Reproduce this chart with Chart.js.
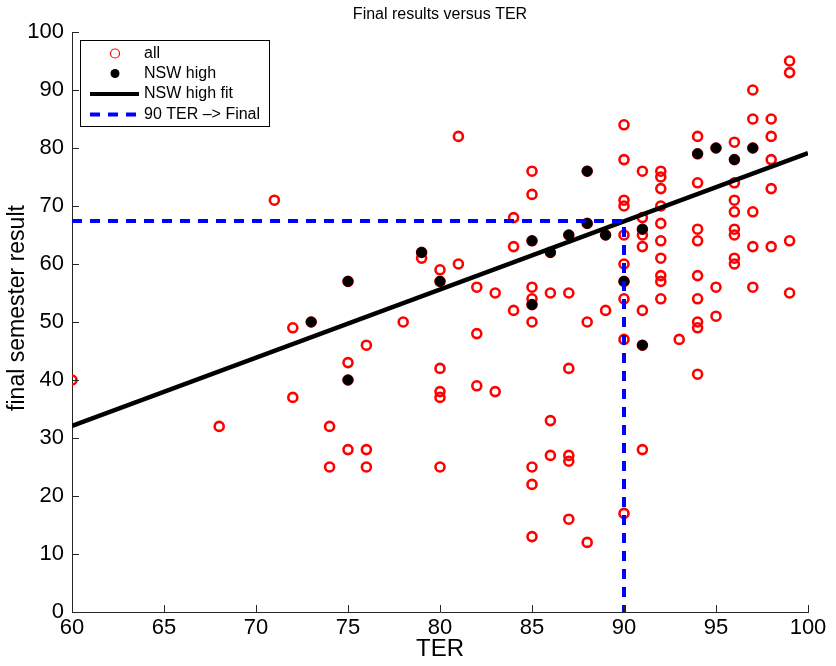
<!DOCTYPE html>
<html>
<head>
<meta charset="utf-8">
<script src="https://cdn.jsdelivr.net/npm/chart.js@4"></script>
<style>
  html, body { margin: 0; padding: 0; background: #fff; }
  #wrap { width: 836px; height: 666px; }
</style>
</head>
<body>
<div id="wrap"><canvas id="ter"></canvas></div>
<script>
// all students: TER vs final semester result
const allTER = [
  60, 68, 71, 72, 72, 73, 74, 74, 75, 75, 75, 75, 76, 76, 76, 78, 79, 79,
  80, 80, 80, 80, 80, 80, 81, 81, 82, 82, 82, 83, 83, 84, 84, 84,
  85, 85, 85, 85, 85, 85, 85, 85, 85, 85, 86, 86, 86, 86,
  87, 87, 87, 87, 87, 87, 88, 88, 88, 88, 89, 89,
  90, 90, 90, 90, 90, 90, 90, 90, 90, 90,
  91, 91, 91, 91, 91, 91, 91, 91,
  92, 92, 92, 92, 92, 92, 92, 92, 92, 92, 93,
  94, 94, 94, 94, 94, 94, 94, 94, 94, 94, 95, 95, 95,
  96, 96, 96, 96, 96, 96, 96, 96, 96,
  97, 97, 97, 97, 97, 97, 98, 98, 98, 98, 98, 99, 99, 99, 99
];
const allFinal = [
  40, 32, 71, 49, 37, 50, 32, 25, 57, 43, 40, 28, 46, 28, 25, 50, 62, 61,
  59, 57, 42, 38, 37, 25, 82, 60, 56, 48, 39, 55, 38, 68, 63, 52,
  76, 72, 64, 56, 54, 53, 50, 25, 22, 13, 62, 55, 33, 27,
  65, 55, 42, 27, 26, 16, 76, 67, 50, 12, 65, 52,
  84, 78, 71, 70, 65, 60, 57, 54, 47, 17,
  76, 68, 66, 65, 63, 52, 46, 28,
  76, 75, 73, 70, 67, 64, 61, 58, 57, 54, 47,
  82, 79, 74, 66, 64, 58, 54, 50, 49, 41, 80, 56, 51,
  81, 78, 74, 71, 69, 66, 65, 61, 60,
  90, 85, 80, 69, 63, 56, 85, 82, 78, 73, 63, 95, 93, 64, 55
];

// NSW high students
const nswTER   = [73, 75, 75, 79, 80, 85, 85, 86, 87, 88, 88, 89, 90, 91, 91, 94, 95, 96, 97];
const nswFinal = [50, 57, 40, 62, 57, 64, 53, 62, 65, 76, 67, 65, 57, 66, 46, 79, 80, 78, 80];

// fitted line (ends)
const fitTER   = [60, 100];
const fitFinal = [32.1, 79.1];

// 90 TER -> final result guide
const cutTER   = [60, 90, 90];
const cutFinal = [67.4, 67.4, 0];

const pts = (xs, ys) => xs.map((x, i) => ({ x: x, y: ys[i] }));

const FONT = "'Liberation Sans', Arial, Helvetica, sans-serif";
const AXIS = '#262626';

// title + inward ticks + boxed legend + y label
const extras = {
  id: 'extras',
  afterDraw(chart) {
    const ctx = chart.ctx;
    const area = chart.chartArea;
    const xs = chart.scales.x, ys = chart.scales.y;
    ctx.save();

    // inward tick marks
    ctx.strokeStyle = AXIS;
    ctx.lineWidth = 1;
    xs.ticks.forEach(t => {
      const px = Math.round(xs.getPixelForValue(t.value)) + 0.5;
      ctx.beginPath();
      ctx.moveTo(px, area.bottom);
      ctx.lineTo(px, area.bottom - 7);
      ctx.stroke();
    });
    ys.ticks.forEach(t => {
      const py = Math.round(ys.getPixelForValue(t.value)) + 0.5;
      ctx.beginPath();
      ctx.moveTo(area.left, py);
      ctx.lineTo(area.left + 7, py);
      ctx.stroke();
    });

    // title
    ctx.fillStyle = '#000';
    ctx.font = '16px ' + FONT;
    ctx.textAlign = 'center';
    ctx.textBaseline = 'middle';
    ctx.fillText('Final results versus TER', (area.left + area.right) / 2, 15);

    // y axis label (sits a little above the middle, as in the source)
    ctx.save();
    ctx.translate(18, 308);
    ctx.rotate(-Math.PI / 2);
    ctx.font = '23px ' + FONT;
    ctx.fillText('final semester result', 0, 0);
    ctx.restore();

    // legend
    const lx = 80.5, ly = 40.5, lw = 189, lh = 86;
    ctx.fillStyle = '#fff';
    ctx.fillRect(lx, ly, lw, lh);
    ctx.strokeStyle = '#000';
    ctx.lineWidth = 1;
    ctx.strokeRect(lx, ly, lw, lh);

    const rows = [53.5, 73.5, 94, 114.5];
    const labels = ['all', 'NSW high', 'NSW high fit', '90 TER \u2013> Final'];
    // row 1: open red circle
    ctx.beginPath();
    ctx.arc(115, rows[0], 4.5, 0, Math.PI * 2);
    ctx.strokeStyle = '#ff0000';
    ctx.lineWidth = 1.2;
    ctx.stroke();
    // row 2: black dot
    ctx.beginPath();
    ctx.arc(115, rows[1], 4.5, 0, Math.PI * 2);
    ctx.fillStyle = '#000';
    ctx.fill();
    // row 3: solid line
    ctx.beginPath();
    ctx.moveTo(90, rows[2]);
    ctx.lineTo(139, rows[2]);
    ctx.strokeStyle = '#000';
    ctx.lineWidth = 4;
    ctx.stroke();
    // row 4: dashed line
    ctx.beginPath();
    ctx.setLineDash([10, 8]);
    ctx.moveTo(90, rows[3]);
    ctx.lineTo(139, rows[3]);
    ctx.strokeStyle = '#0000ff';
    ctx.stroke();
    ctx.setLineDash([]);

    ctx.fillStyle = '#000';
    ctx.font = '16px ' + FONT;
    ctx.textAlign = 'left';
    ctx.textBaseline = 'middle';
    labels.forEach((s, i) => ctx.fillText(s, 144, rows[i]));

    ctx.restore();
  }
};

new Chart(document.getElementById('ter'), {
  type: 'scatter',
  data: {
    datasets: [
      {
        label: '90 TER -> Final',
        data: pts(cutTER, cutFinal),
        showLine: true,
        borderColor: '#0000ff',
        borderWidth: 4,
        borderDash: [10, 8],
        pointRadius: 0,
        order: 1
      },
      {
        label: 'NSW high fit',
        data: pts(fitTER, fitFinal),
        showLine: true,
        borderColor: '#000',
        borderWidth: 4.5,
        pointRadius: 0,
        order: 2
      },
      {
        label: 'NSW high',
        data: pts(nswTER, nswFinal),
        pointRadius: 5,
        pointBackgroundColor: '#000',
        pointBorderColor: '#000',
        pointBorderWidth: 1,
        order: 3
      },
      {
        label: 'all',
        data: pts(allTER, allFinal),
        pointRadius: 4.5,
        pointBackgroundColor: 'rgba(0,0,0,0)',
        pointBorderColor: '#ff0000',
        pointBorderWidth: 2.6,
        order: 4
      }
    ]
  },
  options: {
    responsive: true,
    maintainAspectRatio: false,
    animation: false,
    layout: { padding: { top: 32, right: 28, left: 0, bottom: 0 } },
    plugins: {
      legend: { display: false },
      tooltip: { enabled: false }
    },
    scales: {
      x: {
        type: 'linear',
        min: 60, max: 100,
        afterFit: s => { s.height = 54; },
        ticks: { stepSize: 5, color: '#000', padding: 3, font: { size: 22, family: FONT } },
        grid: { display: false, drawTicks: false },
        border: { display: true, color: AXIS, width: 1 },
        title: { display: true, text: 'TER', color: '#000', padding: { top: 0, bottom: 2 }, font: { size: 24, family: FONT } }
      },
      y: {
        min: 0, max: 100,
        afterFit: s => { s.width = 72; },
        ticks: { stepSize: 10, color: '#000', padding: 8, font: { size: 22, family: FONT } },
        grid: { display: false, drawTicks: false },
        border: { display: true, color: AXIS, width: 1 },
        title: { display: false }
      }
    }
  },
  plugins: [extras]
});
</script>
</body>
</html>
